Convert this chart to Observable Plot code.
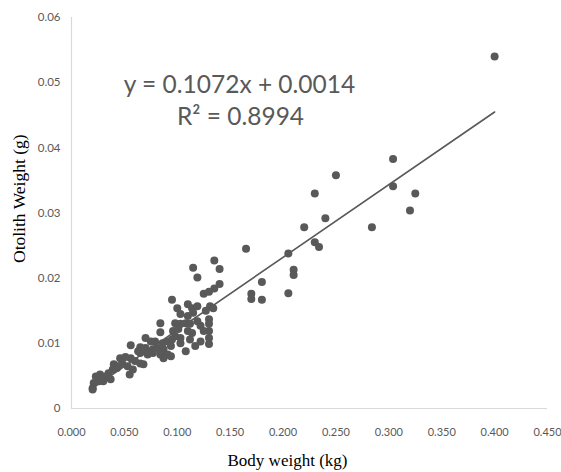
<!DOCTYPE html>
<html>
<head>
<meta charset="utf-8">
<script src="https://cdn.jsdelivr.net/npm/d3@7"></script>
<script src="https://cdn.jsdelivr.net/npm/@observablehq/plot@0.6"></script>
<style>
  html, body { margin: 0; padding: 0; background: #fff; }
  #chart svg { display: block; }
</style>
</head>
<body>
<div id="chart"></div>
<script>
// Body weight (kg)
const bodyWeight = [
  0.400, 0.304, 0.304, 0.325, 0.320, 0.284, 0.250, 0.230, 0.240, 0.220,
  0.230, 0.234, 0.205, 0.165, 0.210, 0.210, 0.180, 0.170, 0.170, 0.180,
  0.205, 0.135, 0.140, 0.115, 0.119, 0.140, 0.135, 0.130, 0.125, 0.095,
  0.110, 0.131, 0.134, 0.127, 0.130, 0.130, 0.130, 0.130, 0.130, 0.100,
  0.114, 0.119, 0.103, 0.110, 0.115, 0.084, 0.098, 0.103, 0.108, 0.112,
  0.119, 0.084, 0.096, 0.101, 0.110, 0.114, 0.098, 0.103, 0.112, 0.070,
  0.075, 0.079, 0.086, 0.091, 0.095, 0.056, 0.065, 0.070, 0.077, 0.081,
  0.087, 0.094, 0.103, 0.065, 0.072, 0.077, 0.084, 0.091, 0.094, 0.087,
  0.063, 0.068, 0.073, 0.046, 0.051, 0.056, 0.060, 0.065, 0.068, 0.055,
  0.040, 0.043, 0.039, 0.035, 0.032, 0.027, 0.025, 0.037, 0.030, 0.026,
  0.021, 0.020, 0.020, 0.023, 0.044, 0.048, 0.053, 0.058, 0.122, 0.125,
  0.122, 0.117, 0.108
];
// Otolith weight (g)
const otolithWeight = [
  0.0540, 0.0383, 0.0341, 0.0330, 0.0304, 0.0278, 0.0358, 0.0330, 0.0292, 0.0278,
  0.0255, 0.0248, 0.0238, 0.0245, 0.0213, 0.0205, 0.0194, 0.0176, 0.0168, 0.0167,
  0.0177, 0.0227, 0.0214, 0.0216, 0.0201, 0.0191, 0.0184, 0.0179, 0.0176, 0.0167,
  0.0160, 0.0157, 0.0154, 0.0150, 0.0137, 0.0130, 0.0119, 0.0108, 0.0099, 0.0154,
  0.0154, 0.0157, 0.0145, 0.0142, 0.0147, 0.0131, 0.0131, 0.0130, 0.0131, 0.0130,
  0.0134, 0.0117, 0.0119, 0.0122, 0.0119, 0.0116, 0.0111, 0.0108, 0.0106, 0.0108,
  0.0103, 0.0103, 0.0100, 0.0103, 0.0106, 0.0097, 0.0094, 0.0093, 0.0091, 0.0093,
  0.0091, 0.0096, 0.0100, 0.0085, 0.0083, 0.0085, 0.0083, 0.0083, 0.0080, 0.0077,
  0.0088, 0.0091, 0.0085, 0.0077, 0.0079, 0.0077, 0.0073, 0.0069, 0.0068, 0.0052,
  0.0068, 0.0062, 0.0060, 0.0054, 0.0049, 0.0052, 0.0046, 0.0045, 0.0042, 0.0042,
  0.0039, 0.0031, 0.0029, 0.0049, 0.0065, 0.0069, 0.0065, 0.0060, 0.0127, 0.0119,
  0.0103, 0.0096, 0.0088
];
// Linear trend line end points (as drawn)
const trendX = [0.018, 0.400];
const trendY = [0.0029, 0.0455];

const xTicks = [0, 0.05, 0.10, 0.15, 0.20, 0.25, 0.30, 0.35, 0.40, 0.45];
const yTicks = [0, 0.01, 0.02, 0.03, 0.04, 0.05, 0.06];

const equationText = "y = 0.1072x + 0.0014";
const r2Text = "R\u00B2 = 0.8994";
const xTitle = "Body weight (kg)";
const yTitle = "Otolith Weight (g)";

const points = bodyWeight.map((x, i) => ({x, y: otolithWeight[i]}));
const trend = trendX.map((x, i) => ({x, y: trendY[i]}));

const ink = "#595959";

const chart = Plot.plot({
  width: 561,
  height: 472,
  marginLeft: 71,
  marginRight: 14,
  marginTop: 17,
  marginBottom: 64,
  style: {fontFamily: "Lato, sans-serif", color: ink, background: "#fff"},
  x: {domain: [0, 0.45]},
  y: {domain: [0, 0.06]},
  marks: [
    Plot.ruleY([0], {stroke: "#d9d9d9", strokeWidth: 1.2}),
    Plot.ruleX([0], {stroke: "#d9d9d9", strokeWidth: 1.2}),
    Plot.axisX({ticks: xTicks, tickSize: 0, tickPadding: 20, fontSize: 11,
      tickFormat: d3.format(".3f"), label: null}),
    Plot.axisY({ticks: yTicks, tickSize: 0, tickPadding: 11, fontSize: 11.5,
      tickFormat: d => d === 0 ? "0" : d3.format(".2f")(d), label: null}),
    Plot.line(trend, {x: "x", y: "y", stroke: ink, strokeWidth: 1.6}),
    Plot.dot(points, {x: "x", y: "y", r: 4, fill: ink, stroke: "none"}),
    Plot.text([equationText], {frameAnchor: "top-left", dx: 168, dy: 68,
      fontSize: 24.5, fill: ink, textAnchor: "middle", lineAnchor: "middle"}),
    Plot.text([r2Text], {frameAnchor: "top-left", dx: 169, dy: 100,
      fontSize: 24.5, fill: ink, textAnchor: "middle", lineAnchor: "middle"}),
    Plot.text([xTitle], {frameAnchor: "bottom", dx: -22, dy: 52,
      fontSize: 17, fontFamily: "Liberation Serif, serif", fill: "#000",
      lineAnchor: "middle"}),
    Plot.text([yTitle], {frameAnchor: "left", dx: -52, dy: 50, rotate: -90,
      fontSize: 17.5, fontFamily: "Liberation Serif, serif", fill: "#000",
      lineAnchor: "middle"})
  ]
});
document.getElementById("chart").appendChild(chart);
</script>
</body>
</html>
